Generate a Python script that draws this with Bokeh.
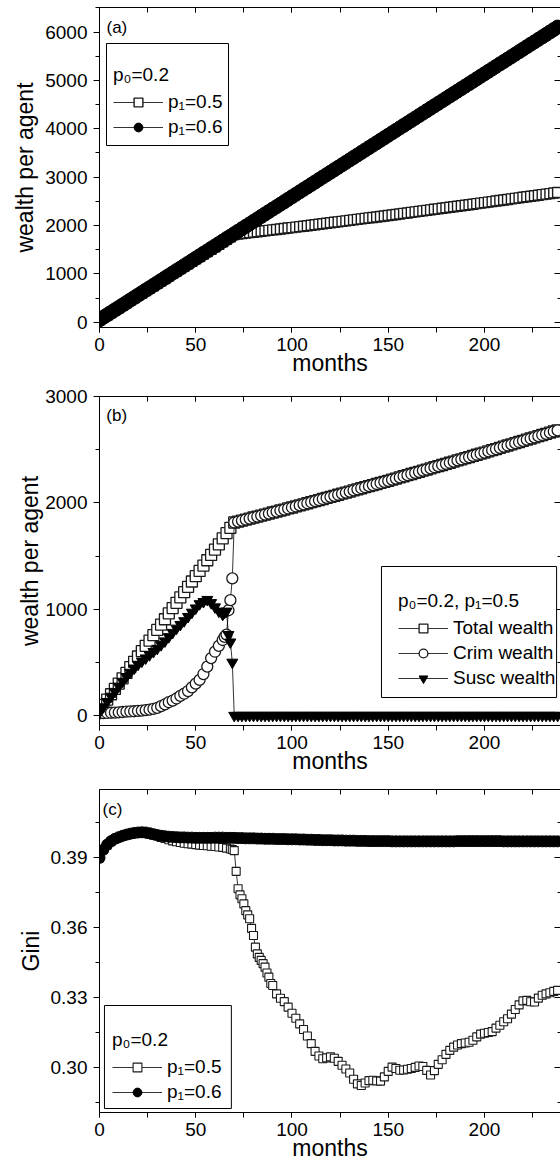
from bokeh.plotting import figure
from bokeh.layouts import column
from bokeh.models import (Range1d, LinearAxis, SingleIntervalTicker, FixedTicker,
                          NumeralTickFormatter, Legend, LegendItem, BoxAnnotation, Label, Title)
from bokeh.embed import file_html
from bokeh.resources import INLINE

FONT = "Liberation Sans"

# ---------------- data ----------------
months_even = list(range(0, 240, 2))

# panel (a): wealth per agent, p1 = 0.6
wealth_p06 = [
    50, 101, 152, 203, 254, 304, 355, 406, 457, 508,
    559, 610, 661, 711, 762, 813, 864, 915, 966, 1017,
    1068, 1118, 1169, 1220, 1271, 1322, 1373, 1424, 1475, 1526,
    1576, 1627, 1678, 1729, 1780, 1831, 1882, 1933, 1983, 2034,
    2085, 2136, 2187, 2238, 2289, 2340, 2390, 2441, 2492, 2543,
    2594, 2645, 2696, 2747, 2798, 2848, 2899, 2950, 3001, 3052,
    3103, 3154, 3205, 3255, 3306, 3357, 3408, 3459, 3510, 3561,
    3612, 3662, 3713, 3764, 3815, 3866, 3917, 3968, 4019, 4070,
    4120, 4171, 4222, 4273, 4324, 4375, 4426, 4477, 4527, 4578,
    4629, 4680, 4731, 4782, 4833, 4884, 4934, 4985, 5036, 5087,
    5138, 5189, 5240, 5291, 5342, 5392, 5443, 5494, 5545, 5596,
    5647, 5698, 5749, 5799, 5850, 5901, 5952, 6003, 6054, 6105]

# panels (a) and (b): total wealth per agent, p0 = 0.2, p1 = 0.5
wealth_total_p05 = [
    50, 100, 150, 200, 250, 300, 350, 400, 455, 505,
    555, 605, 655, 705, 755, 805, 855, 905, 960, 1010,
    1060, 1110, 1160, 1210, 1260, 1310, 1360, 1410, 1460, 1510,
    1560, 1610, 1665, 1715, 1765, 1815, 1824, 1833, 1843, 1852,
    1862, 1871, 1880, 1890, 1899, 1909, 1918, 1928, 1937, 1947,
    1956, 1966, 1976, 1986, 1996, 2006, 2016, 2026, 2036, 2046,
    2056, 2066, 2076, 2086, 2096, 2106, 2117, 2127, 2137, 2147,
    2157, 2167, 2177, 2187, 2197, 2207, 2218, 2228, 2239, 2250,
    2260, 2271, 2282, 2292, 2303, 2313, 2324, 2335, 2345, 2356,
    2367, 2377, 2388, 2399, 2409, 2420, 2430, 2441, 2452, 2462,
    2473, 2484, 2495, 2506, 2517, 2528, 2539, 2550, 2561, 2572,
    2583, 2594, 2605, 2616, 2627, 2638, 2649, 2660, 2671, 2682]

# panel (b): criminal and susceptible wealth before month 70
early_months = list(range(0, 65, 2)) + [65, 66, 67, 68, 69]
crim_early = [
    20, 22, 24, 26, 28, 30, 33, 36, 38, 40,
    43, 46, 50, 55, 62, 72, 88, 105, 125, 140,
    160, 185, 205, 230, 265, 300, 335, 390, 460, 540,
    600, 655, 710,
    740, 760, 990, 1085, 1290]
susc_early = [
    30, 80, 130, 180, 225, 275, 320, 365, 405, 445,
    480, 510, 540, 570, 600, 630, 665, 700, 740, 780,
    820, 855, 890, 930, 970, 1010, 1050, 1070, 1090, 1060,
    1020, 980, 950,
    970, 980, 760, 690, 500]
late_months = months_even[35:]          # months 70 ... 238
susc_late = [0] * len(late_months)      # susceptible wealth is zero after month 70

crim_months = early_months + late_months
crim_wealth = crim_early + wealth_total_p05[35:]   # criminal wealth coincides with total after 70
susc_months = early_months + late_months
susc_wealth = susc_early + susc_late

# panel (c): Gini coefficient
gini_p06 = [
    0.3900, 0.3935, 0.3957, 0.3972, 0.3982, 0.3989, 0.3995, 0.4000, 0.4004, 0.4007,
    0.4009, 0.4010, 0.4009, 0.4006, 0.4002, 0.3998, 0.3995, 0.3993, 0.3991, 0.3990,
    0.3989, 0.3988, 0.3988, 0.3987, 0.3987, 0.3986, 0.3986, 0.3986, 0.3986, 0.3986,
    0.3987, 0.3987, 0.3987, 0.3986, 0.3986, 0.3986, 0.3985, 0.3985, 0.3984, 0.3984,
    0.3984, 0.3983, 0.3983, 0.3982, 0.3982, 0.3982, 0.3981, 0.3981, 0.3981, 0.3980,
    0.3980, 0.3980, 0.3979, 0.3979, 0.3978, 0.3978, 0.3977, 0.3977, 0.3976, 0.3976,
    0.3976, 0.3975, 0.3975, 0.3975, 0.3974, 0.3974, 0.3974, 0.3973, 0.3973, 0.3973,
    0.3972, 0.3972, 0.3972, 0.3972, 0.3972, 0.3972, 0.3971, 0.3971, 0.3971, 0.3971,
    0.3971, 0.3971, 0.3971, 0.3971, 0.3971, 0.3971, 0.3971, 0.3971, 0.3971, 0.3971,
    0.3971, 0.3971, 0.3971, 0.3972, 0.3972, 0.3972, 0.3972, 0.3972, 0.3972, 0.3972,
    0.3972, 0.3972, 0.3972, 0.3972, 0.3972, 0.3971, 0.3971, 0.3971, 0.3971, 0.3971,
    0.3971, 0.3971, 0.3971, 0.3971, 0.3971, 0.3971, 0.3971, 0.3971, 0.3971, 0.3971]

gini_p05_months = list(range(0, 69, 2)) + list(range(69, 91)) + list(range(92, 240, 2))
gini_p05 = [
    0.3900, 0.3935, 0.3955, 0.3970, 0.3980, 0.3987, 0.3993, 0.3998, 0.4002, 0.4005,
    0.4007, 0.4008, 0.4006, 0.4002, 0.3998, 0.3994, 0.3988, 0.3983, 0.3978, 0.3973,
    0.3969, 0.3966, 0.3963, 0.3961, 0.3959, 0.3957, 0.3955, 0.3953, 0.3952, 0.3950,
    0.3949, 0.3947, 0.3945, 0.3942, 0.3938,
    0.3936, 0.3931, 0.3842, 0.3767, 0.3741, 0.3724, 0.3702, 0.3673, 0.3655, 0.3638,
    0.3597, 0.3566, 0.3516, 0.3487, 0.3472, 0.3459, 0.3445, 0.3430, 0.3405, 0.3387,
    0.3360, 0.3351,
    0.3315, 0.3296, 0.3282, 0.3258, 0.3232, 0.3210, 0.3186, 0.3162, 0.3134, 0.3101,
    0.3068, 0.3048, 0.3036, 0.3040, 0.3044, 0.3038, 0.3025, 0.3008, 0.2992, 0.2975,
    0.2948, 0.2928, 0.2921, 0.2932, 0.2942, 0.2944, 0.2941, 0.2940, 0.2958, 0.2982,
    0.3000, 0.2994, 0.2987, 0.2988, 0.2991, 0.2994, 0.2999, 0.3005, 0.3003, 0.2986,
    0.2966, 0.2985, 0.3012, 0.3032, 0.3055, 0.3072, 0.3086, 0.3095, 0.3101, 0.3104,
    0.3107, 0.3116, 0.3130, 0.3142, 0.3146, 0.3149, 0.3153, 0.3168, 0.3180, 0.3195,
    0.3208, 0.3228, 0.3248, 0.3268, 0.3285, 0.3287, 0.3281, 0.3280, 0.3297, 0.3309,
    0.3315, 0.3320, 0.3326, 0.3330]

gini_ticks = [0.30, 0.33, 0.36, 0.39]
gini_minor = [0.285, 0.315, 0.345, 0.375, 0.405]

# ---------------- layout constants (page pixels) ----------------
W = 560
X_END = 239.5
TICK_FS = "19px"
LABEL_FS = "23px"


def make_fig(height, left, top, bottom, y0, y1):
    p = figure(width=W, height=height, output_backend="svg", toolbar_location=None,
               x_range=Range1d(0, X_END), y_range=Range1d(y0, y1),
               min_border_left=left, min_border_right=0,
               min_border_top=top, min_border_bottom=bottom)
    p.xgrid.visible = False
    p.ygrid.visible = False
    p.outline_line_color = None
    p.background_fill_color = "white"
    p.border_fill_color = "white"
    return p


def style_axes(p, yticker, yformatter, ylabel, ylabel_standoff, ylabel_offset):
    xt = SingleIntervalTicker(interval=50, num_minor_ticks=2)
    xa = p.xaxis[0]
    xa.ticker = xt
    xa.axis_label = "months"
    ya = p.yaxis[0]
    ya.ticker = yticker
    if yformatter is not None:
        ya.formatter = yformatter
    for ax in (xa, ya):
        ax.axis_line_color = "black"
        ax.axis_line_width = 1
        ax.major_tick_line_color = "black"
        ax.minor_tick_line_color = "black"
        ax.major_tick_in = 0
        ax.minor_tick_in = 0
        ax.major_label_text_font = FONT
        ax.major_label_text_font_size = TICK_FS
        ax.major_label_text_color = "black"
        ax.axis_label_text_font = FONT
        ax.axis_label_text_font_size = LABEL_FS
        ax.axis_label_text_font_style = "normal"
        ax.axis_label_text_color = "black"
        ax.major_label_standoff = 5
    xa.major_tick_out = 5
    xa.minor_tick_out = 5
    xa.axis_label_standoff = -4
    ya.major_label_standoff = 6
    ya.major_tick_out = 6
    ya.minor_tick_out = 4

    # y-axis title, placed beside the tick labels and shifted down like the original
    p.add_layout(Title(text=ylabel, align="center", offset=ylabel_offset,
                       standoff=ylabel_standoff, text_font=FONT, text_font_size=LABEL_FS,
                       text_font_style="normal", text_color="black"), "left")

    top_ax = LinearAxis(ticker=xt, major_label_text_font_size="0px",
                        major_label_text_color=None, major_label_standoff=0,
                        major_tick_in=5, major_tick_out=0, minor_tick_in=5, minor_tick_out=0,
                        axis_line_color="black", major_tick_line_color="black",
                        minor_tick_line_color="black")
    p.add_layout(top_ax, "above")
    right_ax = LinearAxis(ticker=yticker, major_label_text_font_size="0px",
                          major_label_text_color=None, major_label_standoff=0,
                          major_tick_in=6, major_tick_out=0, minor_tick_in=3, minor_tick_out=0,
                          axis_line_color=None, major_tick_line_color="black",
                          minor_tick_line_color="black")
    p.add_layout(right_ax, "right")


def px2x(px, left):
    return (px - left) / (W - left) * X_END


def px2y(py, top, bottom, y0, y1):
    return y0 + (bottom - py) / (bottom - top) * (y1 - y0)


def add_legend(p, items, title, loc, box, fr):
    left, top, bottom, y0, y1 = fr
    bx = BoxAnnotation(left=px2x(box[0], left), right=px2x(box[1], left),
                       top=px2y(box[2], top, bottom, y0, y1),
                       bottom=px2y(box[3], top, bottom, y0, y1),
                       fill_color="white", fill_alpha=1.0,
                       line_color="black", line_alpha=1.0, line_width=1)
    p.add_layout(bx)
    lg = Legend(items=items, location=loc, title=title,
                title_text_font=FONT, title_text_font_size="19px",
                title_text_font_style="normal", title_text_color="black",
                title_standoff=5,
                label_text_font=FONT, label_text_font_size="19px", label_text_color="black",
                glyph_width=50, glyph_height=22, label_height=22, label_standoff=5,
                spacing=3, padding=5, margin=0,
                border_line_alpha=0, background_fill_alpha=0)
    p.add_layout(lg)


def add_tag(p, text, px, py, fr):
    left, top, bottom, y0, y1 = fr
    p.add_layout(Label(x=px2x(px, left), y=px2y(py, top, bottom, y0, y1), text=text,
                       text_font=FONT, text_font_size="17px", text_color="black",
                       text_baseline="top", text_align="left"))


LINE_W = 0.8

# ---------------- panel (a) ----------------
A_Y0, A_Y1 = -110, 6510
frA = (99, 7, 327, A_Y0, A_Y1)
pa = make_fig(382, 99, 7, 55, A_Y0, A_Y1)
style_axes(pa, SingleIntervalTicker(interval=1000, num_minor_ticks=2), None,
           "wealth per agent", 10, -21)
la05 = pa.line(months_even, wealth_total_p05, line_color="black", line_width=LINE_W)
sa05 = pa.scatter(months_even, wealth_total_p05, marker="square", size=10,
                  fill_color="white", line_color="#1a1a1a", line_width=1.4)
la06 = pa.line(months_even, wealth_p06, line_color="black", line_width=LINE_W)
sa06 = pa.scatter(months_even, wealth_p06, marker="circle", size=14,
                  fill_color="black", line_color="black", line_width=1)
add_legend(pa, [LegendItem(label="p\u2081=0.5", renderers=[la05, sa05]),
                LegendItem(label="p\u2081=0.6", renderers=[la06, sa06])],
           "p\u2080=0.2", (9, 184), (106, 228, 43, 145), frA)
add_tag(pa, "(a)", 106, 17, frA)

# ---------------- panel (b) ----------------
B_Y0, B_Y1 = -94, 3000
frB = (88, 396, 725, B_Y0, B_Y1)
pb = make_fig(398, 88, 14, 55, B_Y0, B_Y1)
style_axes(pb, SingleIntervalTicker(interval=1000, num_minor_ticks=2), None,
           "wealth per agent", 0, -20)
lbt = pb.line(months_even, wealth_total_p05, line_color="black", line_width=LINE_W)
sbt = pb.scatter(months_even, wealth_total_p05, marker="square", size=11,
                 fill_color="white", line_color="#1a1a1a", line_width=1.3)
lbc = pb.line(crim_months, crim_wealth, line_color="black", line_width=LINE_W)
sbc = pb.scatter(crim_months, crim_wealth, marker="circle", size=11,
                 fill_color="white", line_color="#1a1a1a", line_width=1.3)
lbs = pb.line(susc_months, susc_wealth, line_color="black", line_width=LINE_W)
sbs = pb.scatter(susc_months, susc_wealth, marker="inverted_triangle", size=11,
                 fill_color="black", line_color="black", line_width=1)
add_legend(pb, [LegendItem(label="Total wealth", renderers=[lbt, sbt]),
                LegendItem(label="Crim wealth", renderers=[lbc, sbc]),
                LegendItem(label="Susc wealth", renderers=[lbs, sbs])],
           "p\u2080=0.2, p\u2081=0.5", (294, 31), (376.7, 556, 566, 697), frB)
add_tag(pb, "(b)", 95, 405, frB)

# ---------------- panel (c) ----------------
C_Y0, C_Y1 = 0.2805, 0.4194
frC = (95, 789, 1112, C_Y0, C_Y1)
pc = make_fig(387, 95, 9, 55, C_Y0, C_Y1)
style_axes(pc, FixedTicker(ticks=gini_ticks, minor_ticks=gini_minor),
           NumeralTickFormatter(format="0.00"), "Gini", 8, -20)
lc05 = pc.line(gini_p05_months, gini_p05, line_color="black", line_width=LINE_W)
sc05 = pc.scatter(gini_p05_months, gini_p05, marker="square", size=8,
                  fill_color="white", line_color="#1a1a1a", line_width=1.1)
lc06 = pc.line(months_even, gini_p06, line_color="black", line_width=LINE_W)
sc06 = pc.scatter(months_even, gini_p06, marker="circle", size=11,
                  fill_color="black", line_color="black", line_width=1)
add_legend(pc, [LegendItem(label="p\u2081=0.5", renderers=[lc05, sc05]),
                LegendItem(label="p\u2081=0.6", renderers=[lc06, sc06])],
           "p\u2080=0.2", (8, 4), (100, 228, 1005, 1108), frC)
add_tag(pc, "(c)", 98, 799, frC)

layout = column(pa, pb, pc, spacing=0)
open("out.html", "w").write(file_html(layout, INLINE))
